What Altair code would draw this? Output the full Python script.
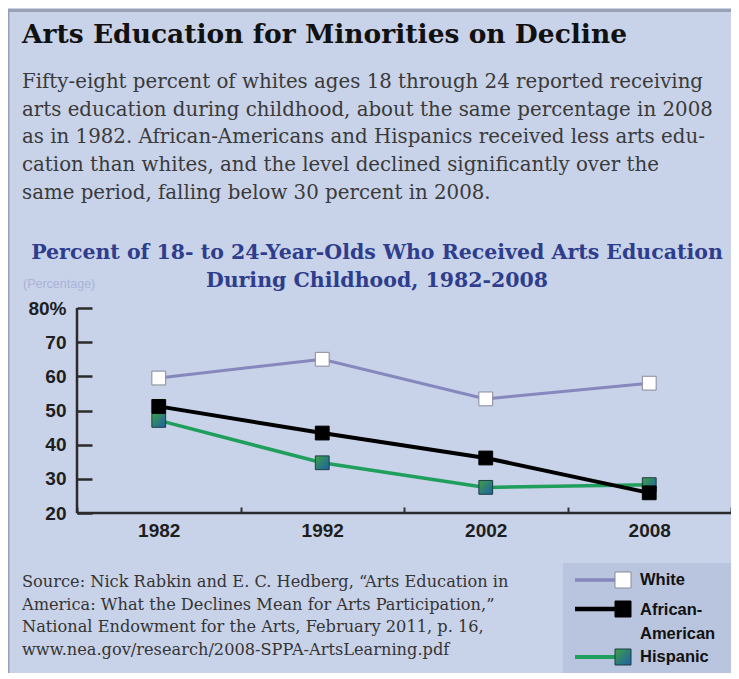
import altair as alt
import pandas as pd

# ---------------- data ----------------
years = ["1982", "1992", "2002", "2008"]
white = [59.5, 65.0, 53.4, 58.0]
african_american = [51.2, 43.4, 36.1, 25.9]
hispanic = [47.1, 34.7, 27.5, 28.3]
series_names = ["White", "African-American", "Hispanic"]

y_ticks = [20, 30, 40, 50, 60, 70, 80]

title_text = "Arts Education for Minorities on Decline"
body_lines = [
    "Fifty-eight percent of whites ages 18 through 24 reported receiving",
    "arts education during childhood, about the same percentage in 2008",
    "as in 1982. African-Americans and Hispanics received less arts edu-",
    "cation than whites, and the level declined significantly over the",
    "same period, falling below 30 percent in 2008.",
]
heading_lines = [
    "Percent of 18- to 24-Year-Olds Who Received Arts Education",
    "During Childhood, 1982-2008",
]
unit_label = "(Percentage)"
source_lines = [
    "Source: Nick Rabkin and E. C. Hedberg, \u201cArts Education in",
    "America: What the Declines Mean for Arts Participation,\u201d",
    "National Endowment for the Arts, February 2011, p. 16,",
    "www.nea.gov/research/2008-SPPA-ArtsLearning.pdf",
]
legend_labels = ["White", "African-\nAmerican", "Hispanic"]

# ---------------- frame ----------------
W, H = 654, 205
BG = "#c8d2e8"
SERIF = "DejaVu Serif"
SANS = "Liberation Sans"

rows = []
for name, vals in zip(series_names, [white, african_american, hispanic]):
    for yr, v in zip(years, vals):
        rows.append({"year": yr, "value": v, "series": name})
df = pd.DataFrame(rows)

hisp_grad = {
    "gradient": "linear", "x1": 0, "y1": 0, "x2": 1, "y2": 1,
    "stops": [{"offset": 0, "color": "#3fa044"}, {"offset": 1, "color": "#1c5fa8"}],
}

x_enc = alt.X(
    "year:O", bandPosition=0.5,
    scale=alt.Scale(type="band", paddingInner=0, paddingOuter=0, domain=years),
    axis=alt.Axis(
        title=None, tickBand="extent", offset=-6, tickSize=6, tickWidth=2,
        tickColor="#333333", domain=False, grid=False, labelAngle=0,
        labelFont=SANS, labelFontWeight="bold", labelFontSize=19,
        labelColor="#1e1e1e", labelPadding=8,
    ),
)
y_enc = alt.Y(
    "value:Q",
    scale=alt.Scale(domain=[20, 80], nice=False, zero=False),
    axis=alt.Axis(
        title=None, values=y_ticks, offset=-15, tickSize=15, tickWidth=2.5,
        tickColor="#2b2b2b", domain=False, grid=False,
        labelExpr="datum.value == 80 ? '80%' : datum.label",
        labelFont=SANS, labelFontWeight="bold", labelFontSize=19,
        labelColor="#1e1e1e", labelPadding=11,
    ),
)

base = alt.Chart(df)

line_styles = {
    "White": dict(color="#8587bd", strokeWidth=3),
    "Hispanic": dict(color="#1f9e5c", strokeWidth=3.5),
    "African-American": dict(color="#000000", strokeWidth=4),
}
point_styles = {
    "White": dict(fill="#ffffff", stroke="#8a8a9a", strokeWidth=1),
    "Hispanic": dict(fill=hisp_grad, stroke="#1d3d45", strokeWidth=1),
    "African-American": dict(fill="#000000", stroke="#000000", strokeWidth=1),
}

layers = []
for name in ["White", "Hispanic", "African-American"]:
    layers.append(
        base.transform_filter(alt.datum.series == name)
        .mark_line(**line_styles[name])
        .encode(x=x_enc, y=y_enc)
    )
    layers.append(
        base.transform_filter(alt.datum.series == name)
        .mark_point(shape="square", size=190, filled=True, opacity=1, **point_styles[name])
        .encode(x=x_enc, y=y_enc)
    )

one = pd.DataFrame({"k": [0]})

def text_layer(txt, x, y, **kw):
    return alt.Chart(one).mark_text(lineBreak="\n", **kw).encode(
        x=alt.value(x), y=alt.value(y), text=alt.value(txt)
    )

# axis lines
axis_lines = [
    alt.Chart(one).mark_rule(color="#2b2b2b", strokeWidth=2.5).encode(
        x=alt.value(0), y=alt.value(0), y2=alt.value(H)),
    alt.Chart(one).mark_rule(color="#2b2b2b", strokeWidth=2.5).encode(
        x=alt.value(0), x2=alt.value(W), y=alt.value(H)),
]

# frame border
border = [
    alt.Chart(one).mark_rule(color="#9aa1b0", strokeWidth=3).encode(
        x=alt.value(-69), x2=alt.value(W), y=alt.value(-297.5)),
    alt.Chart(one).mark_rule(color="#9aa1b0", strokeWidth=2).encode(
        x=alt.value(-68.5), y=alt.value(-299), y2=alt.value(H + 160)),
]

texts = [
    text_layer(title_text, -55, -265, align="left", baseline="alphabetic",
               font=SERIF, fontWeight="bold", fontSize=26.5, color="#111111"),
    text_layer("\n".join(body_lines), -55, -220, align="left", baseline="alphabetic",
               font=SERIF, fontSize=19.8, lineHeight=27.7, color="#3a3a3a"),
    text_layer("\n".join(heading_lines), 300, -49, align="center", baseline="alphabetic",
               font=SERIF, fontWeight="bold", fontSize=20.5, lineHeight=28, color="#2e3d8c"),
    text_layer(unit_label, -54, -20, align="left", baseline="alphabetic",
               font=SANS, fontSize=12.5, color="#a9b3d8"),
    text_layer("\n".join(source_lines), -55, 279, align="left", baseline="alphabetic",
               font=SERIF, fontSize=16.2, lineHeight=22.5, color="#353535"),
]

# legend
leg_x0, leg_line0, leg_line1, leg_sq, leg_txt = 486, 498, 538, 546, 563
leg_y = [272, 301, 349]
legend = [
    alt.Chart(one).mark_rect(color="#b9c4de").encode(
        x=alt.value(leg_x0), x2=alt.value(W + 1), y=alt.value(255), y2=alt.value(365)),
]
for name, yy, lab in zip(["White", "African-American", "Hispanic"], leg_y, legend_labels):
    st = line_styles[name]
    legend.append(
        alt.Chart(one).mark_rule(color=st["color"], strokeWidth=st["strokeWidth"] + 0.5).encode(
            x=alt.value(leg_line0), x2=alt.value(leg_line1), y=alt.value(yy)))
    legend.append(
        alt.Chart(one).mark_point(shape="square", size=256, filled=True, opacity=1,
                                  **point_styles[name]).encode(
            x=alt.value(leg_sq), y=alt.value(yy)))
    if "\n" not in lab:
        legend.append(
            text_layer(lab, leg_txt, yy, align="left", baseline="middle",
                       font=SANS, fontWeight="bold", fontSize=16.5, color="#111111"))
    else:
        legend.append(
            text_layer(lab, leg_txt, yy + 6, align="left", baseline="alphabetic",
                       font=SANS, fontWeight="bold", fontSize=16.5, lineHeight=24,
                       color="#111111"))

chart = alt.layer(*border, *texts, *legend, *axis_lines, *layers).properties(
    width=W, height=H,
    padding={"left": 69, "top": 300, "right": 0, "bottom": 160},
    autosize=alt.AutoSizeParams(type="none"),
).configure(background=BG).configure_view(stroke=None)

chart.save("out.html", embed_options={"renderer": "svg", "actions": False})
